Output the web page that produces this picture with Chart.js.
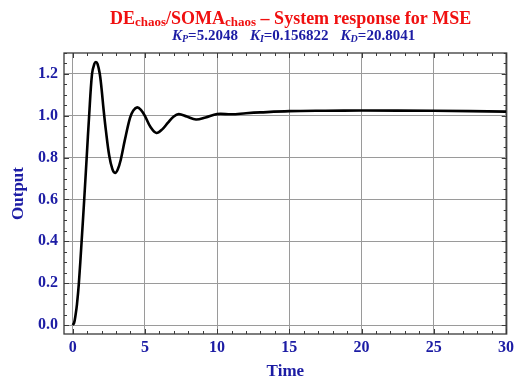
<!DOCTYPE html>
<html>
<head>
<meta charset="utf-8">
<script src="https://cdn.jsdelivr.net/npm/chart.js@4/dist/chart.umd.min.js"></script>
<style>
    html, body { margin: 0; padding: 0; background: #fff; }
    #wrap { position: relative; width: 518px; height: 385px; }
</style>
</head>
<body>
<div id="wrap"><canvas id="responseChart" width="518" height="385"></canvas></div>
<script>
// step response of the tuned PID loop
const timeValues = [0, 0.1, 0.2, 0.3, 0.43, 0.62, 0.8, 0.97, 1.14, 1.34, 1.5, 1.61, 1.72, 1.87,
    2.0, 2.14, 2.3, 2.53, 2.75, 2.94, 3.12, 3.33, 3.6, 3.97, 4.2, 4.47, 4.75, 5.0, 5.4, 5.8, 6.2,
    6.6, 7.0, 7.35, 7.9, 8.54, 9.2, 10, 11, 12, 13, 15, 17.5, 20, 25, 30];
const outputValues = [0, 0.01, 0.048, 0.1, 0.2, 0.4, 0.6, 0.8, 1.0, 1.2, 1.248, 1.257, 1.248, 1.203,
    1.13, 1.03, 0.93, 0.81, 0.745, 0.727, 0.743, 0.79, 0.88, 0.99, 1.025, 1.04, 1.026, 1.0, 0.945,
    0.918, 0.935, 0.967, 0.997, 1.008, 0.996, 0.982, 0.992, 1.008, 1.007, 1.012, 1.016, 1.022, 1.024,
    1.025, 1.024, 1.02];

const timeTicks = [0, 5, 10, 15, 20, 25, 30];
const outputTicks = [0, 0.2, 0.4, 0.6, 0.8, 1.0, 1.2];

const gains = [
    { sub: "P", value: "5.2048" },
    { sub: "I", value: "0.156822" },
    { sub: "D", value: "20.8041" }
];

const BLUE = "#1c1ca4";
const SERIF = "'Liberation Serif', 'Times New Roman', serif";

// heading with subscripts, drawn piece by piece
const headingPlugin = {
    id: "heading",
    afterDraw(chart) {
        const ctx = chart.ctx;
        ctx.save();
        ctx.textBaseline = "alphabetic";
        ctx.textAlign = "left";

        let x = 110;
        const y1 = 23.5;
        const parts = [
            ["DE", 18, 0], ["chaos", 13, 2], ["/SOMA", 18, 0], ["chaos", 13, 2],
            [" \u2013 System response for MSE", 18, 0]
        ];
        ctx.fillStyle = "#f01010";
        parts.forEach(([txt, size, dy]) => {
            ctx.font = `bold ${size}px ${SERIF}`;
            ctx.fillText(txt, x, y1 + dy);
            x += ctx.measureText(txt).width;
        });

        x = 172;
        const y2 = 40;
        ctx.fillStyle = BLUE;
        gains.forEach((g, i) => {
            ctx.font = `italic bold 15px ${SERIF}`;
            ctx.fillText("K", x, y2);
            x += ctx.measureText("K").width;
            ctx.font = `italic bold 10px ${SERIF}`;
            ctx.fillText(g.sub, x, y2 + 2);
            x += ctx.measureText(g.sub).width;
            ctx.font = `bold 15px ${SERIF}`;
            const rest = "=" + g.value;
            ctx.fillText(rest, x, y2);
            x += ctx.measureText(rest).width;
            if (i < gains.length - 1) x += 12;
        });
        ctx.restore();
    }
};

// frame with inward major/minor ticks on all four sides
const frameTicks = {
    id: "frameTicks",
    beforeDatasetsDraw(chart) {
        const { ctx, chartArea: a, scales } = chart;
        const xs = scales.x, ys = scales.y;
        ctx.save();
        ctx.strokeStyle = "#3a3a3a";
        ctx.lineWidth = 1;
        ctx.beginPath();
        for (let t = 0; t <= 30; t++) {
            const px = Math.round(xs.getPixelForValue(t)) + 0.5;
            const len = t % 5 === 0 ? 5 : 3;
            ctx.moveTo(px, a.bottom); ctx.lineTo(px, a.bottom - len);
            ctx.moveTo(px, a.top); ctx.lineTo(px, a.top + len);
        }
        for (let k = 0; k <= 26; k++) {
            const v = k * 0.05;
            const py = Math.round(ys.getPixelForValue(v)) + 0.5;
            const len = k % 4 === 0 ? 5 : 3;
            ctx.moveTo(a.left, py); ctx.lineTo(a.left + len, py);
            ctx.moveTo(a.right, py); ctx.lineTo(a.right - len, py);
        }
        ctx.stroke();
        ctx.lineWidth = 1.3;
        ctx.strokeRect(a.left, a.top, a.right - a.left, a.bottom - a.top);
        ctx.restore();
    }
};

const points = timeValues.map((t, i) => ({ x: t, y: outputValues[i] }));

new Chart(document.getElementById("responseChart"), {
    type: "line",
    data: {
        datasets: [{
            data: points,
            borderColor: "#000",
            borderWidth: 2.6,
            pointRadius: 0,
            tension: 0.35,
            fill: false
        }]
    },
    options: {
        responsive: false,
        animation: false,
        layout: { padding: { top: 53, right: 7, bottom: 0, left: 0 } },
        scales: {
            x: {
                type: "linear",
                min: -0.6,
                max: 30.05,
                afterBuildTicks: s => { s.ticks = timeTicks.map(v => ({ value: v })); },
                afterFit: s => { s.height = 51; },
                grid: { color: "#9a9a9a", lineWidth: 1, drawTicks: false },
                border: { display: false },
                ticks: {
                    padding: 4,
                    color: BLUE,
                    font: { family: SERIF, size: 16, weight: "bold" },
                    callback: v => String(v)
                },
                title: {
                    display: true,
                    text: "Time",
                    color: BLUE,
                    font: { family: SERIF, size: 17, weight: "bold" },
                    padding: { top: 0, bottom: 3 }
                }
            },
            y: {
                min: -0.043,
                max: 1.30,
                afterBuildTicks: s => { s.ticks = outputTicks.map(v => ({ value: v })); },
                afterFit: s => { s.width = 64; },
                grid: { color: "#9a9a9a", lineWidth: 1, drawTicks: false },
                border: { display: false },
                ticks: {
                    padding: 6,
                    color: BLUE,
                    font: { family: SERIF, size: 16, weight: "bold" },
                    callback: v => Number(v).toFixed(1)
                },
                title: {
                    display: true,
                    text: "Output",
                    color: BLUE,
                    font: { family: SERIF, size: 17, weight: "bold" },
                    padding: { top: 8, bottom: 0 }
                }
            }
        },
        plugins: {
            legend: { display: false },
            tooltip: { enabled: false }
        }
    },
    plugins: [frameTicks, headingPlugin]
});
</script>
</body>
</html>
